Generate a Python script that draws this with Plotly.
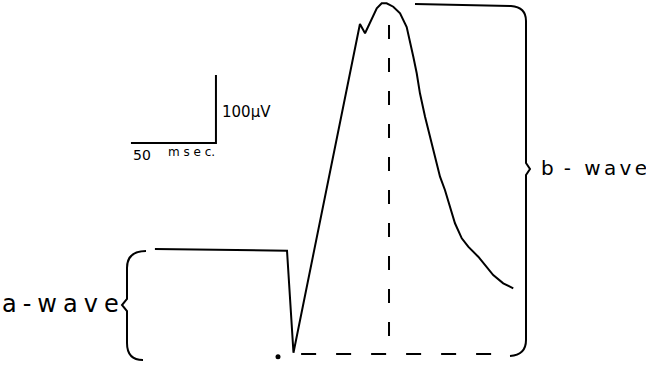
import plotly.graph_objects as go

# ERG trace: time (ms, flash at 0) and potential (µV, pre-flash baseline at 0)
time_ms = [-72.4, -57.6, -40.0, -22.4, -7.6, 5.3, 9.1,
           48.2, 51.2, 55.1, 58.1, 61.0, 63.9, 67.8, 71.8, 75.7, 77.6, 79.6, 81.6, 83.5,
           86.5, 89.4, 92.4, 95.3, 98.2, 101.2, 104.1, 108.1, 111.9, 117.8, 122.8, 126.6,
           132.5, 138.4]
volt_uv = [1.5, 1.0, 0.3, -0.3, -0.9, -1.0, -151.0,
           332.4, 318.7, 338.2, 355.4, 362.8, 362.8, 357.8, 348.1, 327.9, 308.8, 284.3,
           259.9, 230.4, 196.0, 166.6, 135.3, 107.8, 88.2, 63.7, 39.3, 17.2, 4.9, -9.9,
           -24.6, -36.8, -49.0, -56.3]

flash_ms = [0.0]
scale_ms = 50
scale_uv = 100
labels = ["a\u2005-\u2005w\u2005a\u2005v\u2005e", "b\u2002-\u2002\u2006w\u2006a\u2006v\u2006e"]
scale_labels = [f"{scale_uv}µV", f"{scale_ms}", "m s e c."]

W, H = 646, 376
PX_PER_MS = 1.7
PX_PER_UV = 0.68
X0_PX, Y0_PX = 278, 250  # pixel location of t=0, V=0

x_range = [(0 - X0_PX) / PX_PER_MS, (W - X0_PX) / PX_PER_MS]
y_range = [(Y0_PX - H) / PX_PER_UV, (Y0_PX - 0) / PX_PER_UV]

peak_i = max(range(len(volt_uv)), key=lambda i: volt_uv[i])
trough_i = min(range(len(volt_uv)), key=lambda i: volt_uv[i])
peak_t, peak_v = time_ms[peak_i], volt_uv[peak_i]
trough_t, trough_v = time_ms[trough_i], volt_uv[trough_i]

fig = go.Figure()

# trace
fig.add_trace(go.Scatter(x=time_ms, y=volt_uv, mode="lines",
                         line=dict(color="black", width=2), hoverinfo="skip"))
# flash dot
fig.add_trace(go.Scatter(x=flash_ms, y=[trough_v - 6], mode="markers",
                         marker=dict(color="black", size=5), hoverinfo="skip"))
# vertical dashed line from peak to trough level
fig.add_trace(go.Scatter(x=[peak_t + 4.3, peak_t + 4.3], y=[peak_v - 32, trough_v],
                         mode="lines", line=dict(color="black", width=2, dash="14px,19px"),
                         hoverinfo="skip"))
# horizontal dashed line at trough level
fig.add_trace(go.Scatter(x=[trough_t + 4.5, 136.5], y=[trough_v - 2, trough_v - 2],
                         mode="lines", line=dict(color="black", width=2, dash="15px,20px"),
                         hoverinfo="skip"))

# scale bar
sx1, sy0 = -36.5, 157.5  # corner (ms, µV)
fig.add_trace(go.Scatter(x=[sx1 - scale_ms, sx1, sx1], y=[sy0, sy0, sy0 + scale_uv],
                         mode="lines", line=dict(color="black", width=2), hoverinfo="skip"))

# overlay axis in pixel space for braces
fig.update_layout(
    xaxis=dict(range=x_range, visible=False, domain=[0, 1]),
    yaxis=dict(range=y_range, visible=False, domain=[0, 1]),
    xaxis2=dict(range=[0, W], visible=False, overlaying="x", domain=[0, 1]),
    yaxis2=dict(range=[H, 0], visible=False, overlaying="y", domain=[0, 1]),
)

brace_line = dict(color="black", width=2)
fig.add_shape(type="path", xref="x2", yref="y2", line=brace_line,
              path="M 146,251 Q 127,251 127,268 L 127,299 L 122,305 L 127,311 L 127,343 Q 127,360 143,360")
fig.add_shape(type="path", xref="x2", yref="y2", line=brace_line,
              path="M 415,4 L 511,6 Q 526,7 526,21 L 526,163 L 530,169 L 526,175 L 526,340 Q 526,355 510,356")

font = "DejaVu Sans, sans-serif"
fig.add_annotation(xref="x2", yref="y2", x=0, y=304, text=labels[0], showarrow=False,
                   xanchor="left", yanchor="middle", font=dict(size=24, color="black", family=font))
fig.add_annotation(xref="x2", yref="y2", x=539, y=168, text=labels[1], showarrow=False,
                   xanchor="left", yanchor="middle", font=dict(size=20, color="black", family=font))
fig.add_annotation(xref="x2", yref="y2", x=220, y=112, text=scale_labels[0], showarrow=False,
                   xanchor="left", yanchor="middle", font=dict(size=15, color="black", family=font))
fig.add_annotation(xref="x2", yref="y2", x=131, y=155, text=scale_labels[1], showarrow=False,
                   xanchor="left", yanchor="middle", font=dict(size=14, color="black", family=font))
fig.add_annotation(xref="x2", yref="y2", x=166, y=152, text=scale_labels[2], showarrow=False,
                   xanchor="left", yanchor="middle", font=dict(size=12, color="black", family=font))

fig.update_layout(width=W, height=H, margin=dict(l=0, r=0, t=0, b=0),
                  paper_bgcolor="white", plot_bgcolor="white", showlegend=False)

fig.write_html("out.html", post_script="document.body.style.margin='0';",
               config={"displayModeBar": False, "staticPlot": True})
